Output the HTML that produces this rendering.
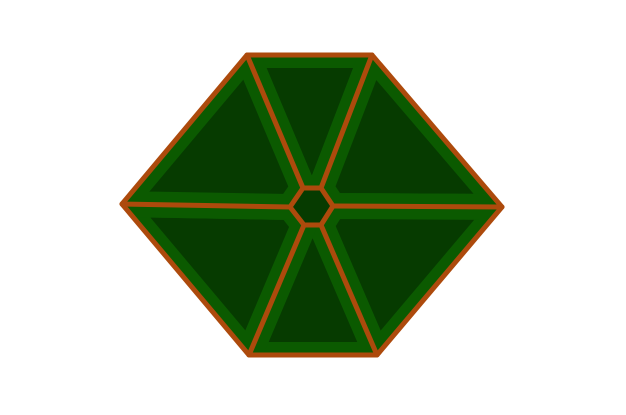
<!DOCTYPE html>
<html><head><meta charset="utf-8"><style>body{margin:0;background:#fff}svg{display:block}</style></head>
<body>
<svg width="626" height="415">
<defs><clipPath id="cp"><polygon id="cpp"/></clipPath></defs>
<g id="g"></g>
</svg>
<script>
const outer=[[247,55],[372,55],[502,207],[377,355],[249,355],[122,204]];
const inner=[[303,188],[321,188],[333,206],[321,225],[304,225],[290,207]];
const g=document.getElementById('g');
const NS='http://www.w3.org/2000/svg';
function mk(t,a,p){const e=document.createElementNS(NS,t);for(const k in a)e.setAttribute(k,a[k]);(p||g).appendChild(e);return e;}
const pts=p=>p.map(q=>q.join(',')).join(' ');
document.getElementById('cpp').setAttribute('points',pts(outer));
let e=mk('polygon',{points:pts(outer),fill:'#0b5a00'});


const sg=mk('g',{'clip-path':'url(#cp)'});
for(let i=0;i<6;i++){
 const j=(i+1)%6;
 const s=mk('polygon',{points:pts([outer[i],outer[j],inner[j],inner[i]]),fill:'#063b00',stroke:'#0b5a00','stroke-width':26,'stroke-linejoin':'round'},sg);
 
 
}
const c=mk('polygon',{points:pts(inner),fill:'#063b00'});


const st={fill:'none',stroke:'#ad4a0c','stroke-width':5,'stroke-linejoin':'round','stroke-linecap':'round'};
let o=mk('polygon',Object.assign({points:pts(outer)},st));


let ib=mk('polygon',Object.assign({points:pts(inner)},st));


for(let i=0;i<6;i++){
 const l=mk('line',Object.assign({x1:outer[i][0],y1:outer[i][1],x2:inner[i][0],y2:inner[i][1]},st));
 
 
}
</script>
</body></html>
